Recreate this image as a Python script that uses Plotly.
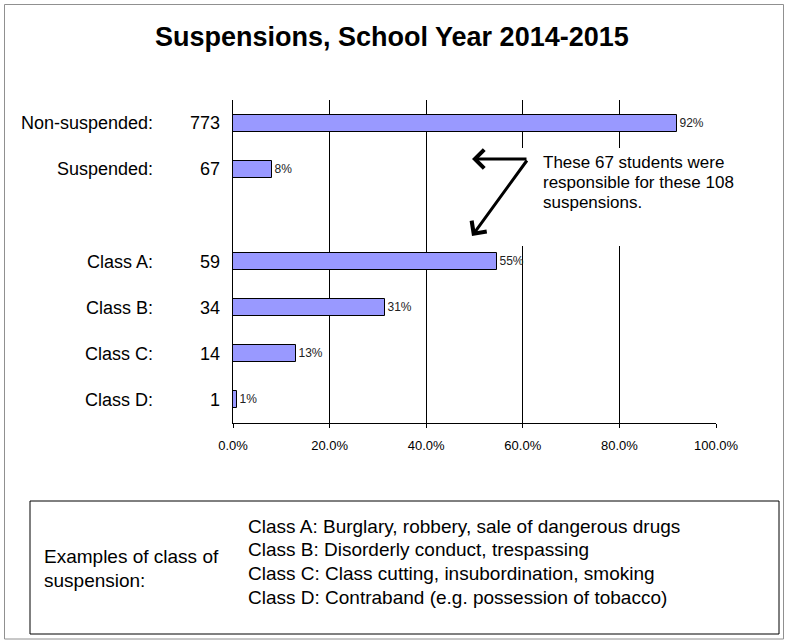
import plotly.graph_objects as go

# ---- data ----
categories = ["Non-suspended:", "Suspended:", "Class A:", "Class B:", "Class C:", "Class D:"]
counts = [773, 67, 59, 34, 14, 1]
percent = [92.0, 8.0, 54.6, 31.4, 13.0, 0.9]
row_pos = [0, 1, 3, 4, 5, 6]          # row 2 is an empty spacer row
x_ticks = [0, 20, 40, 60, 80, 100]
x_tick_labels = ["0.0%", "20.0%", "40.0%", "60.0%", "80.0%", "100.0%"]
title_text = "Suspensions, School Year 2014-2015"
note_lines = ["These 67 students were", "responsible for these 108", "suspensions."]
examples_label = ["Examples of class of", "suspension:"]
examples_lines = [
    "Class A: Burglary, robbery, sale of dangerous drugs",
    "Class B: Disorderly conduct, trespassing",
    "Class C: Class cutting, insubordination, smoking",
    "Class D: Contraband (e.g. possession of tobacco)",
]

W, H = 785, 641
L, R, T, B = 233, 716, 100, 423
FONT = "Arial, Liberation Sans, sans-serif"


def px_x(p):
    return (p - L) / (R - L)


def px_y(p):
    return (B - p) / (B - T)


def text_at(txt, x, y, size, anchor="left", bold=False):
    return dict(x=px_x(x), y=px_y(y), xref="paper", yref="paper",
                text=("<b>%s</b>" % txt) if bold else txt, showarrow=False,
                xanchor=anchor, yanchor="middle", align="left",
                font=dict(family=FONT, size=size, color="black"))


fig = go.Figure()
fig.add_trace(go.Bar(
    x=percent, y=row_pos, orientation="h",
    width=0.37,
    marker=dict(color="#9999FF", line=dict(color="black", width=1)),
    text=[f"{v:.0f}%" for v in percent],
    textposition="outside",
    textfont=dict(family=FONT, size=12, color="#222222"),
    cliponaxis=False,
    hoverinfo="skip",
))

annotations = []
for name, cnt, pos in zip(categories, counts, row_pos):
    annotations.append(dict(x=0, y=pos, xref="x", yref="y", text=name, showarrow=False,
                            xanchor="right", yanchor="middle", xshift=-78,
                            font=dict(family=FONT, size=18, color="black")))
    annotations.append(dict(x=0, y=pos, xref="x", yref="y", text=str(cnt), showarrow=False,
                            xanchor="right", yanchor="middle", xshift=-11,
                            font=dict(family=FONT, size=18, color="black")))

# arrows
tip_x = px_x(472)
annotations.append(dict(x=tip_x, y=px_y(159), xref="paper", yref="paper", text="",
                        showarrow=True, ax=56, ay=0, arrowhead=4, arrowsize=1.2,
                        arrowwidth=3, arrowcolor="black", standoff=0))
annotations.append(dict(x=tip_x, y=px_y(236), xref="paper", yref="paper", text="",
                        showarrow=True, ax=56, ay=-77, arrowhead=4, arrowsize=1.2,
                        arrowwidth=3, arrowcolor="black", standoff=0))
for i, line in enumerate(note_lines):
    annotations.append(text_at(line, 541, 162 + 20 * i, 17))

# title
annotations.append(text_at(title_text, 392, 37, 27, anchor="center", bold=True))

# bottom box texts
for i, line in enumerate(examples_label):
    annotations.append(text_at(line, 42, 556 + 24 * i, 19))
for i, line in enumerate(examples_lines):
    annotations.append(text_at(line, 246, 526 + 23.8 * i, 19))

shapes = [
    # white patch that interrupts gridlines behind the note
    dict(type="rect", xref="paper", yref="paper", x0=px_x(462), x1=px_x(722),
         y0=px_y(246), y1=px_y(148), fillcolor="white", line=dict(width=0), layer="above"),
    # outer frame
    dict(type="rect", xref="paper", yref="paper", x0=px_x(4.5), x1=px_x(783.5),
         y0=px_y(639), y1=px_y(4.5), line=dict(color="#909090", width=1), layer="below"),
    # bottom box
    dict(type="rect", xref="paper", yref="paper", x0=px_x(30), x1=px_x(779),
         y0=px_y(634), y1=px_y(501), line=dict(color="black", width=1), layer="below"),
]

fig.update_layout(
    width=W, height=H,
    margin=dict(l=L, r=W - R, t=T, b=H - B, pad=0),
    paper_bgcolor="white", plot_bgcolor="white",
    showlegend=False,
    bargap=0,
    annotations=annotations,
    shapes=shapes,
    font=dict(family=FONT, color="black"),
    xaxis=dict(range=[0, 100], tickvals=x_ticks, ticktext=x_tick_labels,
               showgrid=True, gridcolor="black", gridwidth=1,
               showline=True, linecolor="black", linewidth=1,
               ticks="outside", ticklen=4, tickcolor="black",
               ticklabelstandoff=6,
               tickfont=dict(family=FONT, size=13, color="black"),
               zeroline=False, fixedrange=True),
    yaxis=dict(range=[6.5, -0.5], showticklabels=False, showgrid=False,
               zeroline=False, showline=True, linecolor="black", linewidth=1,
               ticks="", fixedrange=True),
)

fig.write_html("out.html", config={"displayModeBar": False},
               post_script="document.body.style.margin='0px';")
